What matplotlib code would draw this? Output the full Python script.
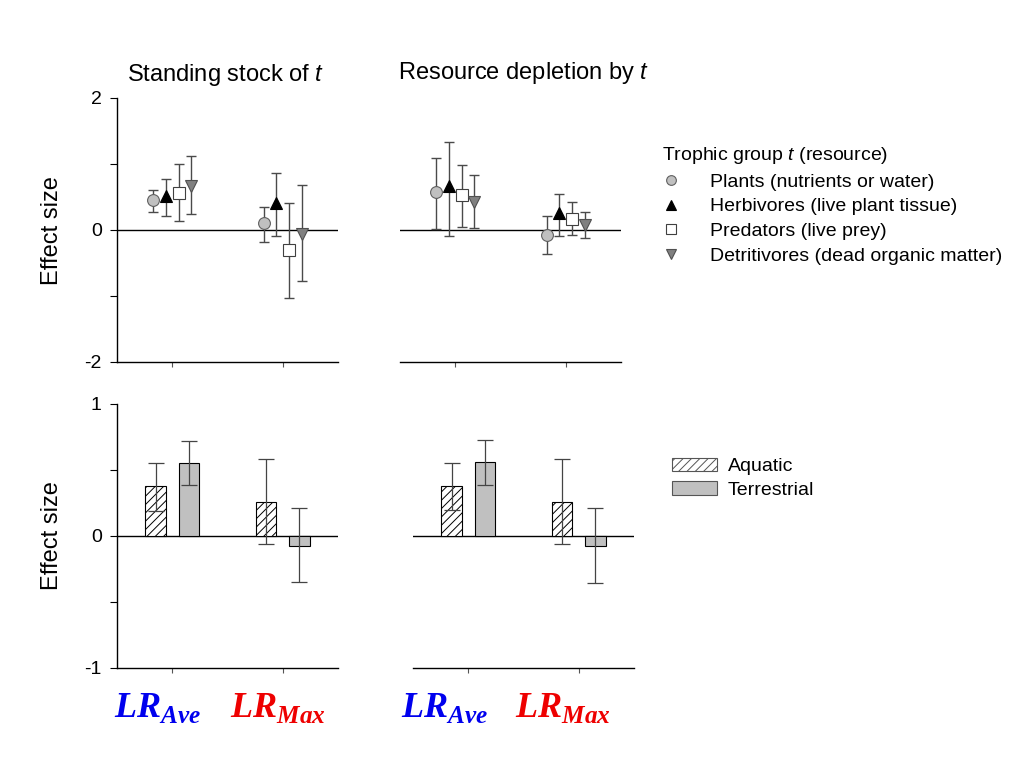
import numpy as np
import matplotlib
matplotlib.use("Agg")
import matplotlib.pyplot as plt
from matplotlib.lines import Line2D
from matplotlib.patches import Patch

plt.rcParams['font.family'] = ['Liberation Sans', 'DejaVu Sans']
plt.rcParams['mathtext.fontset'] = 'custom'
plt.rcParams['mathtext.rm'] = 'Liberation Sans'
plt.rcParams['mathtext.it'] = 'Liberation Sans:italic'
plt.rcParams['mathtext.bf'] = 'Liberation Serif:italic:bold'
plt.rcParams['hatch.linewidth'] = 0.7

# --- Data ---
groups = [r'$\mathbf{LR}_{\mathbf{Ave}}$', r'$\mathbf{LR}_{\mathbf{Max}}$']
group_colors = ['#0000ee', '#ee0000']
trophic = ['Plants (nutrients or water)', 'Herbivores (live plant tissue)',
           'Predators (live prey)', 'Detritivores (dead organic matter)']
habitats = ['Aquatic', 'Terrestrial']

# top row: rows = LR_Ave / LR_Max, columns = plants, herbivores, predators, detritivores
stock_mean = [[0.45, 0.52, 0.56, 0.66], [0.10, 0.41, -0.31, -0.06]]
stock_lo = [[0.28, 0.21, 0.13, 0.24], [-0.18, -0.09, -1.03, -0.77]]
stock_hi = [[0.60, 0.78, 1.00, 1.12], [0.35, 0.86, 0.41, 0.68]]

depl_mean = [[0.57, 0.66, 0.53, 0.43], [-0.07, 0.26, 0.17, 0.07]]
depl_lo = [[0.02, -0.09, 0.05, 0.03], [-0.37, -0.09, -0.08, -0.12]]
depl_hi = [[1.09, 1.33, 0.98, 0.83], [0.21, 0.55, 0.42, 0.28]]

# bottom row: rows = aquatic / terrestrial, columns = LR_Ave, LR_Max
stock_bar = [[0.377, 0.26], [0.555, -0.073]]
stock_bar_lo = [[0.19, -0.06], [0.39, -0.35]]
stock_bar_hi = [[0.555, 0.58], [0.72, 0.21]]

depl_bar = [[0.38, 0.26], [0.558, -0.073]]
depl_bar_lo = [[0.196, -0.06], [0.39, -0.357]]
depl_bar_hi = [[0.555, 0.583], [0.724, 0.21]]

# --- Styles ---
mk = ['o', '^', 's', 'v']
mk_face = ['#c0c0c0', 'black', 'white', '#808080']
mk_edge = ['#606060', 'black', '#404040', '#505050']
mk_offset = [-0.345, -0.115, 0.115, 0.345]
bar_offset = [-0.3, 0.3]
bar_width = 0.37
bar_face = ['white', '#c0c0c0']
bar_hatch = ['////', None]
gx = np.array([1, 3])

fig = plt.figure(figsize=(10.24, 7.68), dpi=100)
W, H = 1024, 768


def add_ax(x0, y0, x1, y1):
    return fig.add_axes([x0 / W, 1 - y1 / H, (x1 - x0) / W, (y1 - y0) / H])


def style(ax, left_spine, ylim, yticks, ylabels):
    ax.set_xlim(0, 4)
    ax.set_ylim(*ylim)
    ax.spines['top'].set_visible(False)
    ax.spines['right'].set_visible(False)
    ax.spines['bottom'].set_linewidth(1)
    ax.set_xticks(gx)
    ax.set_xticklabels([])
    ax.tick_params(axis='x', direction='out', length=3.5, width=0.8, color='#555555')
    ax.axhline(0, color='black', lw=1, zorder=1)
    if left_spine:
        ax.spines['left'].set_linewidth(1)
        ax.set_yticks(yticks)
        ax.set_yticklabels(ylabels, fontsize=14)
        ax.tick_params(axis='y', direction='out', length=5, width=0.8, pad=6)
    else:
        ax.spines['left'].set_visible(False)
        ax.set_yticks([])


def points(ax, mean, lo, hi):
    mean = np.array(mean)
    lo = np.array(lo)
    hi = np.array(hi)
    for j in range(len(trophic)):
        x = gx + mk_offset[j]
        ax.errorbar(x, mean[:, j], yerr=[mean[:, j] - lo[:, j], hi[:, j] - mean[:, j]],
                    fmt='none', ecolor='#4a4a4a', elinewidth=1, capsize=3.6, capthick=1, zorder=2)
        ax.plot(x, mean[:, j], linestyle='none', marker=mk[j], markersize=8.5,
                markerfacecolor=mk_face[j], markeredgecolor=mk_edge[j], markeredgewidth=0.8, zorder=3)


def bars(ax, mean, lo, hi):
    mean = np.array(mean)
    lo = np.array(lo)
    hi = np.array(hi)
    for k in range(len(habitats)):
        x = gx + bar_offset[k]
        ax.bar(x, mean[k], width=bar_width, facecolor=bar_face[k], edgecolor='black',
               hatch=bar_hatch[k], linewidth=0.8, zorder=2)
        ax.errorbar(x, mean[k], yerr=[mean[k] - lo[k], hi[k] - mean[k]],
                    fmt='none', ecolor='#444444', elinewidth=0.9, capsize=5.5, capthick=0.9, zorder=3)


ax1 = add_ax(117, 98, 338, 362)
style(ax1, True, (-2, 2), [-2, -1, 0, 1, 2], ['-2', '', '0', '', '2'])
points(ax1, stock_mean, stock_lo, stock_hi)
ax1.set_title('Standing stock of $t$', fontsize=17, pad=12, x=0.49)

ax2 = add_ax(400, 98, 621, 362)
style(ax2, False, (-2, 2), [], [])
points(ax2, depl_mean, depl_lo, depl_hi)
ax2.set_title('Resource depletion by $t$', fontsize=17, pad=14, x=0.561)

ax3 = add_ax(117, 404, 338, 668)
style(ax3, True, (-1, 1), [-1, -0.5, 0, 0.5, 1], ['-1', '', '0', '', '1'])
bars(ax3, stock_bar, stock_bar_lo, stock_bar_hi)

ax4 = add_ax(413, 404, 634, 668)
style(ax4, False, (-1, 1), [], [])
bars(ax4, depl_bar, depl_bar_lo, depl_bar_hi)

for yc in (231, 536):
    fig.text(52 / W, 1 - yc / H, 'Effect size', rotation=90, ha='center', va='center', fontsize=17)

# big group labels under the columns
for xc in ([158, 278], [445, 563]):
    for g, x in enumerate(xc):
        fig.text(x / W, 1 - 717 / H, groups[g], color=group_colors[g], fontsize=26,
                 ha='center', va='baseline')

h1 = [Line2D([], [], linestyle='none', marker=mk[j], markersize=7,
             markerfacecolor=mk_face[j], markeredgecolor=mk_edge[j], markeredgewidth=0.8)
      for j in range(len(trophic))]
fig.legend(h1, trophic, loc='upper left', bbox_to_anchor=(652 / W, 1 - 135 / H),
           frameon=False, fontsize=14, title='Trophic group $t$ (resource)',
           title_fontsize=14, alignment='left', handletextpad=1.5, labelspacing=0.37,
           borderpad=0, handlelength=1.0)

h2 = [Patch(facecolor=bar_face[k], edgecolor='#555555', hatch=bar_hatch[k], linewidth=0.8)
      for k in range(len(habitats))]
fig.legend(h2, habitats, loc='upper left', bbox_to_anchor=(662 / W, 1 - 448 / H),
           frameon=False, fontsize=14, handlelength=2.35, handleheight=0.7,
           handletextpad=0.55, labelspacing=0.3, borderpad=0)

fig.savefig('out.png', dpi=100)
